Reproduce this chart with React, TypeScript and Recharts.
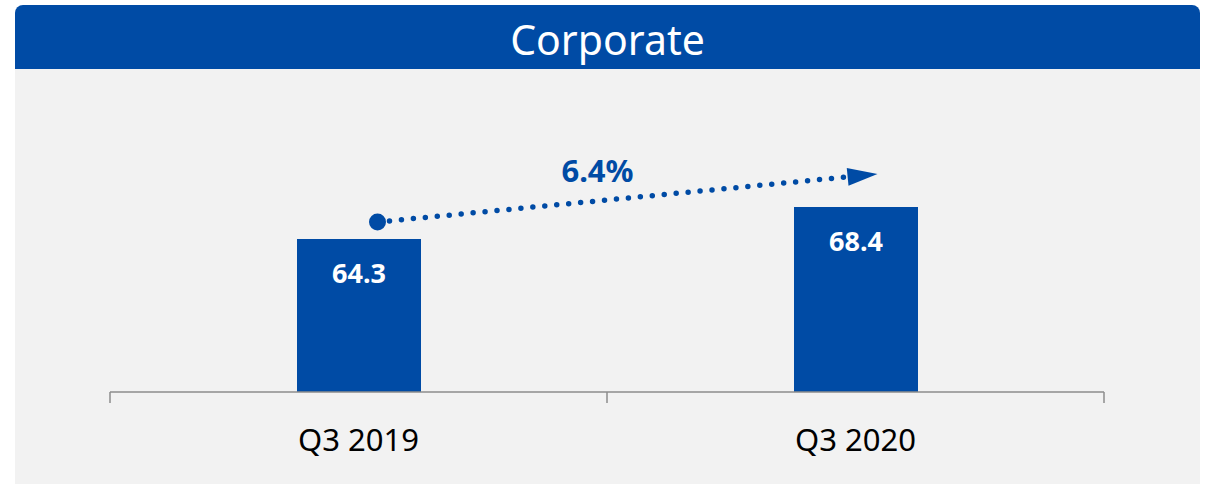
import React from "react";
import { BarChart, Bar, XAxis, YAxis, LabelList, ReferenceLine } from "recharts";

const categories = ["Q3 2019", "Q3 2020"];
const corporateValues = [64.3, 68.4];
const growthLabel = "6.4%";
const title = "Corporate";
const yDomain = [44.7, 80];

const BLUE = "#004BA5";
const FONT = "'Noto Sans', 'Open Sans', sans-serif";
const CHART_W = 1185;
const CHART_H = 415;
const MARGIN = { top: 47.5, right: 96, left: 95, bottom: 32 };
const BAND = (CHART_W - MARGIN.left - MARGIN.right) / categories.length;

const data = categories.map((name, i) => ({ name, value: corporateValues[i] }));

const AxisTick = (props: any) => {
  const { x, y, index, payload } = props;
  const last = index === categories.length - 1;
  return (
    <g>
      <line x1={x - BAND / 2} y1={y} x2={x - BAND / 2} y2={y + 11} stroke="#8C8C8C" strokeWidth={1.5} />
      {last && <line x1={x + BAND / 2} y1={y} x2={x + BAND / 2} y2={y + 11} stroke="#8C8C8C" strokeWidth={1.5} />}
      <text x={x} y={y + 59} textAnchor="middle" fontSize={31} fontFamily={FONT} fill="#000">
        {payload.value}
      </text>
    </g>
  );
};

const ValueLabel = (props: any) => {
  const x = Number(props.x);
  const y = Number(props.y);
  const w = Number(props.width);
  return (
    <text
      x={x + w / 2}
      y={y + 33}
      textAnchor="middle"
      dominantBaseline="central"
      fontSize={27}
      fontWeight="bold"
      fontFamily={FONT}
      fill="#fff"
    >
      {props.value}
    </text>
  );
};

// dotted growth arrow from the first bar to the second
const GrowthArrow = (props: any) => {
  const sx = props.x1 + 19;
  const sy = props.y1 - 17;
  const ex = props.x2 + 22;
  const ey = props.y2 - 33;
  const len = Math.hypot(ex - sx, ey - sy);
  const ux = (ex - sx) / len;
  const uy = (ey - sy) / len;
  const bx = ex - 30 * ux;
  const by = ey - 30 * uy;
  const head = `${ex},${ey} ${bx - 9 * uy},${by + 9 * ux} ${bx + 9 * uy},${by - 9 * ux}`;
  return (
    <g>
      <line
        x1={sx + 12}
        y1={sy + 12 * uy}
        x2={bx - 4 * ux}
        y2={by - 4 * uy}
        stroke={BLUE}
        strokeWidth={5.5}
        strokeLinecap="round"
        strokeDasharray="0 12"
      />
      <circle cx={sx} cy={sy} r={8.5} fill={BLUE} />
      <polygon points={head} fill={BLUE} />
      <text
        x={(sx + ex) / 2 - 30}
        y={(sy + ey) / 2 - 28}
        textAnchor="middle"
        dominantBaseline="central"
        fontSize={31}
        fontWeight="bold"
        fontFamily={FONT}
        fill={BLUE}
      >
        {growthLabel}
      </text>
    </g>
  );
};

export default function App() {
  return (
    <div style={{ position: "absolute", left: 0, top: 0, width: 1207, height: 484, background: "#fff" }}>
      <div
        style={{
          position: "absolute",
          left: 15,
          top: 5,
          width: 1185,
          height: 64,
          background: BLUE,
          borderRadius: "8px 8px 0 0",
          color: "#fff",
          fontFamily: FONT,
          fontSize: 41,
          lineHeight: "68px",
          textAlign: "center",
          overflow: "hidden",
        }}
      >
        {title}
      </div>
      <div style={{ position: "absolute", left: 15, top: 69, width: CHART_W, height: CHART_H, background: "#F2F2F2" }}>
        <BarChart width={CHART_W} height={CHART_H} data={data} margin={MARGIN}>
          <XAxis
            dataKey="name"
            height={60}
            axisLine={{ stroke: "#8C8C8C", strokeWidth: 1.5 }}
            tickLine={false}
            tickSize={0}
            tickMargin={0}
            tick={<AxisTick />}
            interval={0}
          />
          <YAxis hide domain={yDomain} allowDataOverflow />
          <Bar dataKey="value" fill={BLUE} barSize={124} isAnimationActive={false}>
            <LabelList dataKey="value" content={<ValueLabel />} />
          </Bar>
          <ReferenceLine
            segment={[
              { x: categories[0], y: corporateValues[0] },
              { x: categories[1], y: corporateValues[1] },
            ]}
            ifOverflow="visible"
            shape={GrowthArrow}
          />
        </BarChart>
      </div>
    </div>
  );
}
